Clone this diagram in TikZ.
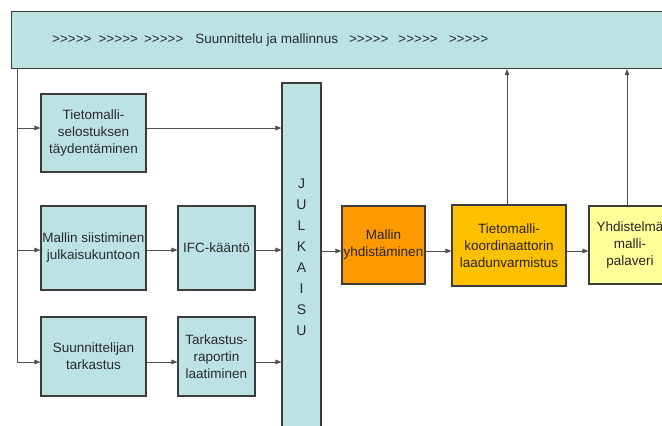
\documentclass[tikz,border=0pt]{standalone}
\usepackage{fontspec}
\setmainfont{Liberation Sans}
\usetikzlibrary{arrows.meta}
\definecolor{cyanfill}{HTML}{BCE2E4}
\definecolor{orangefill}{HTML}{FF9900}
\definecolor{goldfill}{HTML}{FFC000}
\definecolor{yellowfill}{HTML}{FFFF99}
\definecolor{boxline}{HTML}{3C3C3C}
\definecolor{conn}{HTML}{505050}
\definecolor{txt}{HTML}{2A2A2A}
\newcommand\chevgroup{>{}>{}>{}>{}>}
\begin{document}
\begin{tikzpicture}[x=1pt,y=1pt,
  box/.style={draw=boxline, line width=1.1pt, fill=#1, inner sep=0pt, align=center,
    text=txt, font=\fontsize{13.5}{17}\selectfont},
  box/.default=cyanfill,
  arr/.style={draw=conn, line width=0.9pt, -{Triangle[length=6pt,width=4.5pt]}},
  ln/.style={draw=conn, line width=0.9pt}]
\useasboundingbox (0,0) rectangle (662,-426);
\clip (0,0) rectangle (662,-426);
\fill[white] (0,0) rectangle (662,-426);

% top bar
\node[box, minimum width=700, minimum height=57, anchor=north west] (bar) at (11,-11) {};
\node[anchor=west, inner sep=0pt, text=txt, font=\fontsize{13.5}{17}\selectfont] (bartext) at (52,-40)
  {\chevgroup\hspace{7pt}\chevgroup\hspace{6pt}\chevgroup\hspace{12pt}Suunnittelu ja mallinnus\hspace{11pt}\chevgroup\hspace{10pt}\chevgroup\hspace{11pt}\chevgroup};

% left column boxes
\node[box, minimum width=105, minimum height=78] (b1) at (93.5,-133) {Tietomalli-\\selostuksen\\täydentäminen};
\node[box, minimum width=105, minimum height=84] (b2) at (93.5,-248) {Mallin siistiminen\\julkaisukuntoon};
\node[box, minimum width=105, minimum height=79] (b3) at (93.5,-356.5) {Suunnittelijan\\tarkastus};
\node[box, minimum width=77, minimum height=84] (ifc) at (216.5,-248) {IFC-kääntö};
\node[box, minimum width=77, minimum height=79] (tr) at (216.5,-356.5) {Tarkastus-\\raportin\\laatiminen};

% JULKAISU column
\node[box, minimum width=39, minimum height=349, font=\fontsize{14}{21}\selectfont] (jul) at (301.5,-257.5)
  {J\\U\\L\\K\\A\\I\\S\\U};

% right boxes
\node[box=orangefill, minimum width=83, minimum height=78, text=black!85] (my) at (383.5,-245) {Mallin\\yhdistäminen};
\node[box=goldfill, minimum width=114, minimum height=81, text=black!85] (tk) at (509,-245.5) {Tietomalli-\\koordinaattorin\\laadunvarmistus};
\node[box=yellowfill, minimum width=82, minimum height=78, text=black!85] (yp) at (630,-245) {Yhdistelmä\\malli-\\palaveri};

% helper coordinates
\coordinate (lx) at (17,-68);
\coordinate (r1) at (0,-128);
\coordinate (r2) at (0,-250);
\coordinate (r3) at (0,-362);
\coordinate (r4) at (0,-251);
\coordinate (u1) at (507,0);
\coordinate (u2) at (627,0);

% left trunk and branches
\draw[ln] (lx) -- (lx |- r3);
\draw[arr] (lx |- r3) -- (b3.west |- r3);
\draw[arr] (lx |- r1) -- (b1.west |- r1);
\draw[arr] (lx |- r2) -- (b2.west |- r2);

% into JULKAISU
\draw[arr] (b1.east |- r1) -- (jul.west |- r1);
\draw[arr] (b2.east |- r2) -- (ifc.west |- r2);
\draw[arr] (ifc.east |- r2) -- (jul.west |- r2);
\draw[arr] (b3.east |- r3) -- (tr.west |- r3);
\draw[arr] (tr.east |- r3) -- (jul.west |- r3);

% right chain
\draw[arr] (jul.east |- r4) -- (my.west |- r4);
\draw[arr] (my.east |- r4) -- (tk.west |- r4);
\draw[arr] (tk.east |- r4) -- (yp.west |- r4);

% feedback up to bar
\draw[arr] (tk.north -| u1) -- (bar.south -| u1);
\draw[arr] (yp.north -| u2) -- (bar.south -| u2);
\end{tikzpicture}
\end{document}
